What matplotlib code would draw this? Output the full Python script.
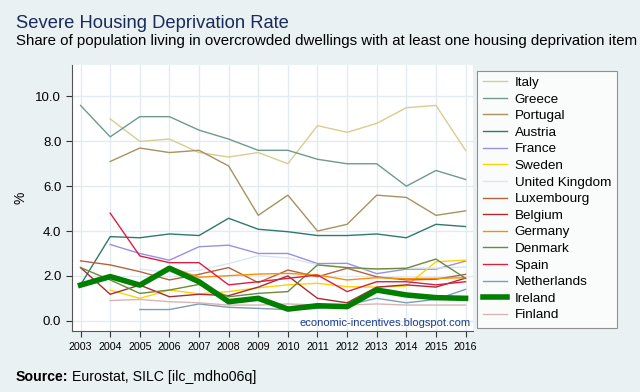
import matplotlib
matplotlib.use("Agg")
import matplotlib.pyplot as plt
import numpy as np

years = list(range(2003, 2017))
N = np.nan

italy      = [N, 9.0, 8.0, 8.1, 7.5, 7.3, 7.5, 7.0, 8.7, 8.4, 8.8, 9.5, 9.6, 7.6]
greece     = [9.6, 8.2, 9.1, 9.1, 8.5, 8.1, 7.6, 7.6, 7.2, 7.0, 7.0, 6.0, 6.7, 6.3]
portugal   = [N, 7.1, 7.7, 7.5, 7.6, 6.9, 4.7, 5.6, 4.0, 4.3, 5.6, 5.5, 4.7, 4.9]
austria    = [1.6, 3.75, 3.7, 3.87, 3.8, 4.57, 4.08, 3.97, 3.8, 3.8, 3.87, 3.7, 4.3, 4.2]
france     = [N, 3.4, 3.0, 2.7, 3.3, 3.37, 3.0, 3.0, 2.55, 2.56, 2.1, 2.3, 2.3, 2.66]
sweden     = [N, 1.37, 1.0, 1.37, 1.2, 1.3, 1.47, 1.6, 1.67, 1.52, 1.5, 1.55, 2.63, 2.7]
uk         = [N, N, 2.3, 2.15, 2.25, 2.55, 2.9, 2.8, 2.5, 2.35, 2.3, 2.35, 2.35, 2.4]
luxembourg = [2.67, 2.49, 2.19, 1.82, 2.07, 2.37, 1.7, 2.26, 1.96, 2.34, 1.96, 1.82, 1.85, 2.07]
belgium    = [2.37, 1.18, 1.59, 1.07, 1.18, 1.12, 1.5, 2.0, 1.0, 0.8, 1.5, 1.6, 1.5, 1.9]
germany    = [N, N, 1.65, 2.4, 1.94, 2.01, 2.08, 2.11, 2.04, 1.82, 1.92, 1.88, 1.89, 1.92]
denmark    = [2.37, 1.82, 1.22, 1.37, 1.62, 1.07, 1.22, 1.3, 2.49, 2.37, 2.31, 2.34, 2.75, 1.89]
spain      = [N, 4.8, 2.89, 2.59, 2.59, 1.6, 1.74, 1.89, 2.04, 1.3, 1.74, 1.74, 1.6, 1.74]
netherlands= [N, N, 0.5, 0.5, 0.75, 0.6, 0.55, 0.5, 0.55, 0.7, 1.0, 0.8, 0.95, 1.4]
ireland    = [1.59, 1.97, 1.59, 2.34, 1.74, 0.85, 1.0, 0.52, 0.67, 0.63, 1.37, 1.15, 1.03, 1.0]
finland    = [N, 0.9, 0.95, 0.85, 0.8, 0.7, 0.7, 0.75, 0.7, 0.7, 0.75, 0.7, 0.7, 0.7]

series = [
    ("Italy", italy, "#d8cd8e", 1.0),
    ("Greece", greece, "#6f9a8c", 1.0),
    ("Portugal", portugal, "#a8925e", 1.0),
    ("Austria", austria, "#2f7a6a", 1.0),
    ("France", france, "#9b90e0", 1.0),
    ("Sweden", sweden, "#ffd200", 1.0),
    ("United Kingdom", uk, "#dbe6ee", 1.0),
    ("Luxembourg", luxembourg, "#b4633c", 1.0),
    ("Belgium", belgium, "#a82c34", 1.0),
    ("Germany", germany, "#ff8c00", 1.0),
    ("Denmark", denmark, "#6b8a3a", 1.0),
    ("Spain", spain, "#dc1e46", 1.0),
    ("Netherlands", netherlands, "#7d9cb6", 1.0),
    ("Ireland", ireland, "#008000", 4.0),
    ("Finland", finland, "#d8b4b4", 1.0),
]

plt.rcParams['font.family'] = ['Liberation Sans', 'DejaVu Sans']
bg = "#eaf1f3"
W, H = 640, 392
fig = plt.figure(figsize=(6.4, 3.92), dpi=100, facecolor=bg)
ax = fig.add_axes([0.112, 0.156, 0.627, 0.678])
ax.set_facecolor("white")

order = [s for s in series if s[0] != "Ireland"] + [s for s in series if s[0] == "Ireland"]
handles = {}
for name, vals, col, lw in order:
    ln, = ax.plot(years, vals, color=col, lw=lw, label=name,
                  zorder=3 if name == "Ireland" else 2)
    handles[name] = ln

ax.set_xlim(2002.7, 2016.25)
ax.set_ylim(-0.45, 11.4)
ax.set_xticks(years)
ax.set_xticklabels([str(y) for y in years], fontsize=7.7)
ax.set_yticks([0, 2, 4, 6, 8, 10])
ax.set_yticklabels(["0.0", "2.0", "4.0", "6.0", "8.0", "10.0"], fontsize=9.5)
ax.grid(True, color="#e2ecf0", lw=1.0, zorder=0)
ax.set_axisbelow(True)
for s in ["top", "right"]:
    ax.spines[s].set_visible(False)
for s in ["left", "bottom"]:
    ax.spines[s].set_color("#555555")
    ax.spines[s].set_linewidth(0.8)
ax.tick_params(colors="#333333", length=4, width=0.8, labelcolor="black")
ax.tick_params(axis="x", pad=4)
ax.set_ylabel("%", fontsize=10, labelpad=6)

ax.text(0.995, 0.012, "economic-incentives.blogspot.com", transform=ax.transAxes,
        ha="right", va="bottom", color="#1e3f8c", fontsize=8)

leg = fig.legend([handles[s[0]] for s in series], [s[0] for s in series],
                 loc="upper left", bbox_to_anchor=(477/W, 1-70.5/H),
                 borderaxespad=0.0,
                 fontsize=9.7, frameon=True, fancybox=False, edgecolor="#777777",
                 facecolor="white", handlelength=1.75, handletextpad=0.6,
                 labelspacing=0.31, borderpad=0.45)
leg.get_frame().set_linewidth(0.8)

fig.text(16/W, 1-28/H, "Severe Housing Deprivation Rate", fontsize=13.2,
         color="#1a2a5a", va="baseline", ha="left")
fig.text(16/W, 1-45/H,
         "Share of population living in overcrowded dwellings with at least one housing deprivation item",
         fontsize=10.8, va="baseline", ha="left")
t = fig.text(16/W, 1-381/H, "Source:", fontsize=10.2, fontweight="bold",
             va="baseline", ha="left")
fig.canvas.draw()
bb = t.get_window_extent(renderer=fig.canvas.get_renderer())
fig.text((bb.x1 + 4)/W, 1-381/H, "Eurostat, SILC [ilc_mdho06q]", fontsize=10.2,
         va="baseline", ha="left")

fig.savefig("out.png", dpi=100, facecolor=bg)
